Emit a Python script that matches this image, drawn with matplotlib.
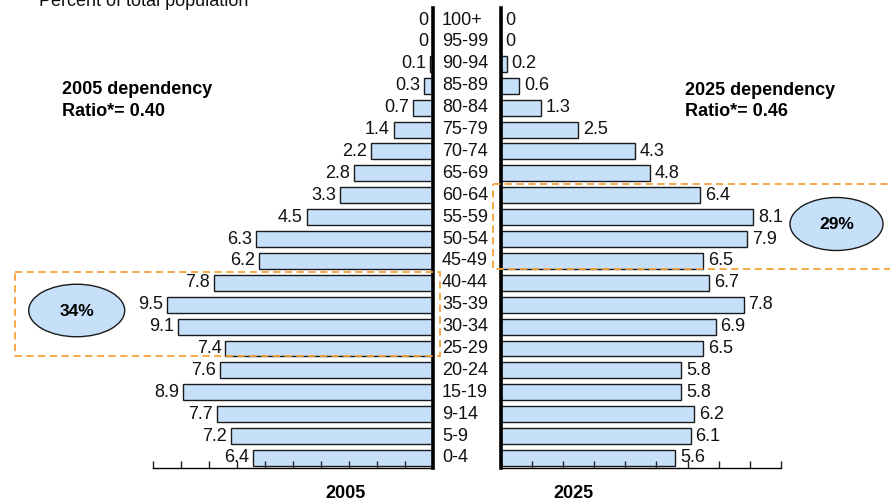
import matplotlib
matplotlib.use("Agg")
import matplotlib.pyplot as plt
from matplotlib.patches import Rectangle, Ellipse

plt.rcParams['font.family'] = ['Liberation Sans', 'DejaVu Sans']

# ---- data (top row first) ----
age_groups = ["100+", "95-99", "90-94", "85-89", "80-84", "75-79", "70-74", "65-69",
              "60-64", "55-59", "50-54", "45-49", "40-44", "35-39", "30-34", "25-29",
              "20-24", "15-19", "9-14", "5-9", "0-4"]
pop_2005 = [0, 0, 0.1, 0.3, 0.7, 1.4, 2.2, 2.8, 3.3, 4.5, 6.3, 6.2, 7.8, 9.5, 9.1, 7.4,
            7.6, 8.9, 7.7, 7.2, 6.4]
pop_2025 = [0, 0, 0.2, 0.6, 1.3, 2.5, 4.3, 4.8, 6.4, 8.1, 7.9, 6.5, 6.7, 7.8, 6.9, 6.5,
            5.8, 5.8, 6.2, 6.1, 5.6]
left_ticks = list(range(0, 11))
right_ticks = list(range(0, 10))
title = "Percent of total population"
dep_2005 = ["2005 dependency", "Ratio*= 0.40"]
dep_2025 = ["2025 dependency", "Ratio*= 0.46"]
share_2005 = "34%"
share_2025 = "29%"

W, H = 890, 503
fig = plt.figure(figsize=(W / 100, H / 100), dpi=100)

BAR = '#C6E0FA'
EDGE = '#1a1a1a'
FS = 13

n = len(age_groups)
ypos = [n - 1 - i for i in range(n)]  # top row highest
ylim = (-0.457, 20.55)
ax_bottom = (H - 468) / H
ax_height = 460 / H


def fx(px):
    return px / W


# left axes (2005)
axL = fig.add_axes([fx(152.7), ax_bottom, fx(432.7 - 152.7), ax_height])
axL.barh(ypos, pop_2005, height=0.73, color=BAR, edgecolor=EDGE, linewidth=1.0)
axL.set_xlim(10, 0)
axL.set_ylim(*ylim)
axL.set_xticks(left_ticks)
axL.set_xticklabels([])
axL.set_yticks([])
axL.tick_params(axis='x', direction='in', length=5, width=1, color='#222222')
for s in ['top', 'left']:
    axL.spines[s].set_visible(False)
axL.spines['right'].set_linewidth(2.6)
axL.spines['bottom'].set_linewidth(1.0)
for y, v in zip(ypos, pop_2005):
    lab = "0" if v == 0 else f"{v:.1f}"
    axL.annotate(lab, (v, y), xytext=(-4, 0), textcoords='offset pixels',
                 ha='right', va='center', fontsize=FS, color='#111111')

# right axes (2025)
axR = fig.add_axes([fx(500.5), ax_bottom, fx(781 - 500.5), ax_height])
axR.barh(ypos, pop_2025, height=0.73, color=BAR, edgecolor=EDGE, linewidth=1.0)
axR.set_xlim(0, 9)
axR.set_ylim(*ylim)
axR.set_xticks(right_ticks)
axR.set_xticklabels([])
axR.set_yticks([])
axR.tick_params(axis='x', direction='in', length=5, width=1, color='#222222')
for s in ['top', 'right']:
    axR.spines[s].set_visible(False)
axR.spines['left'].set_linewidth(2.6)
axR.spines['bottom'].set_linewidth(1.0)
for y, v in zip(ypos, pop_2025):
    lab = "0" if v == 0 else f"{v:.1f}"
    axR.annotate(lab, (v, y), xytext=(5, 0), textcoords='offset pixels',
                 ha='left', va='center', fontsize=FS, color='#111111')

# age labels between the axes
for y, g in zip(ypos, age_groups):
    axR.annotate(g, (0, y), xytext=(442 - 500.5, 0), textcoords='offset pixels',
                 ha='left', va='center', fontsize=FS, color='#111111',
                 annotation_clip=False)

# overlay in pixel coordinates
ov = fig.add_axes([0, 0, 1, 1], facecolor='none')
ov.set_xlim(0, W)
ov.set_ylim(H, 0)
ov.axis('off')

ov.text(39, 6, title, fontsize=FS, ha='left', va='baseline', color='#111111')
ov.text(62, 94, dep_2005[0], fontsize=FS, fontweight='bold', ha='left', va='baseline')
ov.text(62, 116, dep_2005[1], fontsize=FS, fontweight='bold', ha='left', va='baseline')
ov.text(685, 95, dep_2025[0], fontsize=FS, fontweight='bold', ha='left', va='baseline')
ov.text(685, 116, dep_2025[1], fontsize=FS, fontweight='bold', ha='left', va='baseline')
ov.text(346, 498, "2005", fontsize=FS, fontweight='bold', ha='center', va='baseline')
ov.text(573, 498, "2025", fontsize=FS, fontweight='bold', ha='center', va='baseline')

ORANGE = '#F5A236'
ov.add_patch(Rectangle((15, 271.5), 439.5 - 15, 356 - 271.5, fill=False,
                       edgecolor=ORANGE, linewidth=1.3, linestyle=(0, (4, 2.5))))
ov.add_patch(Rectangle((493, 184), 920 - 493, 269 - 184, fill=False,
                       edgecolor=ORANGE, linewidth=1.3, linestyle=(0, (4, 2.5)),
                       clip_on=True))

ov.add_patch(Ellipse((76.7, 310.5), 96, 52.5, facecolor=BAR, edgecolor=EDGE, linewidth=1.0))
ov.add_patch(Ellipse((836.5, 224), 93, 53, facecolor=BAR, edgecolor=EDGE, linewidth=1.0))
ov.text(76.7, 311, share_2005, fontsize=12.5, fontweight='bold', ha='center', va='center')
ov.text(836.5, 224.5, share_2025, fontsize=12.5, fontweight='bold', ha='center', va='center')

fig.savefig("out.png", dpi=100)
